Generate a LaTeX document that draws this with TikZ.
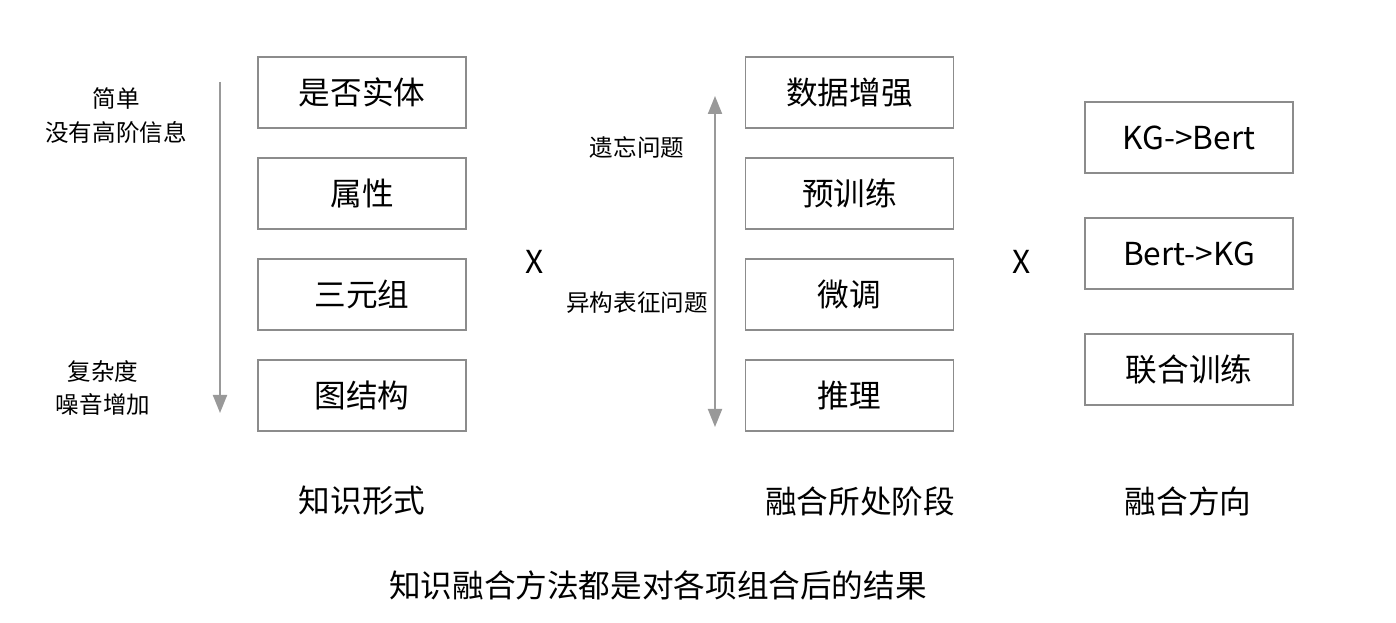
\documentclass[tikz,border=0pt]{standalone}
\usepackage{fontspec}
\setmainfont{Noto Sans CJK SC}
\usetikzlibrary{arrows.meta,positioning}

\tikzset{
  box/.style={draw=gray!90, line width=1.1pt, minimum width=4.16cm, minimum height=1.42cm, font=\fontsize{18}{20}\selectfont},
  note/.style={align=center, font=\fontsize{13.4}{19.3}\selectfont},
  title/.style={font=\fontsize{18}{20}\selectfont},
  axis/.style={line width=1.1pt, gray!80, >={Triangle[length=0.36cm,width=0.28cm]}}
}

\begin{document}
\begin{tikzpicture}
\useasboundingbox (0,0) rectangle (27.92,12.44);

\node[box] (ent) at (7.24,10.59) {是否实体};
\node[box, below=0.56cm of ent] (attr) {属性};
\node[box, below=0.56cm of attr] (trip) {三元组};
\node[box, below=0.56cm of trip] (graph) {图结构};

\node[box] (aug) at (16.99,10.59) {数据增强};
\node[box, below=0.56cm of aug] (pre) {预训练};
\node[box, below=0.56cm of pre] (fine) {微调};
\node[box, below=0.56cm of fine] (infer) {推理};

\node[box] (kgb) at (23.78,9.69) {KG->Bert};
\node[box, below=0.86cm of kgb] (bkg) {Bert->KG};
\node[box, below=0.86cm of bkg] (joint) {联合训练};

\node[title] (x1) at (10.7,7.2) {X};
\node[title] (x2) at (20.44,7.2) {X};

\node[note] (simple) at (2.32,10.12) {简单\\没有高阶信息};
\node[note] (complex) at (2.06,4.68) {复杂度\\噪音增加};
\node[note] (forget) at (12.74,9.5) {遗忘问题};
\node[note] (hetero) at (12.74,6.38) {异构表征问题};

\coordinate (a1s) at (4.40,10.8);
\coordinate (a1e) at (4.40,4.18);
\draw[axis, ->] (a1s) -- (a1e);
\coordinate (a2s) at (14.30,10.52);
\coordinate (a2e) at (14.30,3.9);
\draw[axis, <->] (a2s) -- (a2e);

\node[title] (form) at (7.24,2.42) {知识形式};
\node[title] (stage) at (17.2,2.42) {融合所处阶段};
\node[title] (dir) at (23.76,2.42) {融合方向};
\node[title] (sum) at (13.16,0.74) {知识融合方法都是对各项组合后的结果};
\end{tikzpicture}
\end{document}
